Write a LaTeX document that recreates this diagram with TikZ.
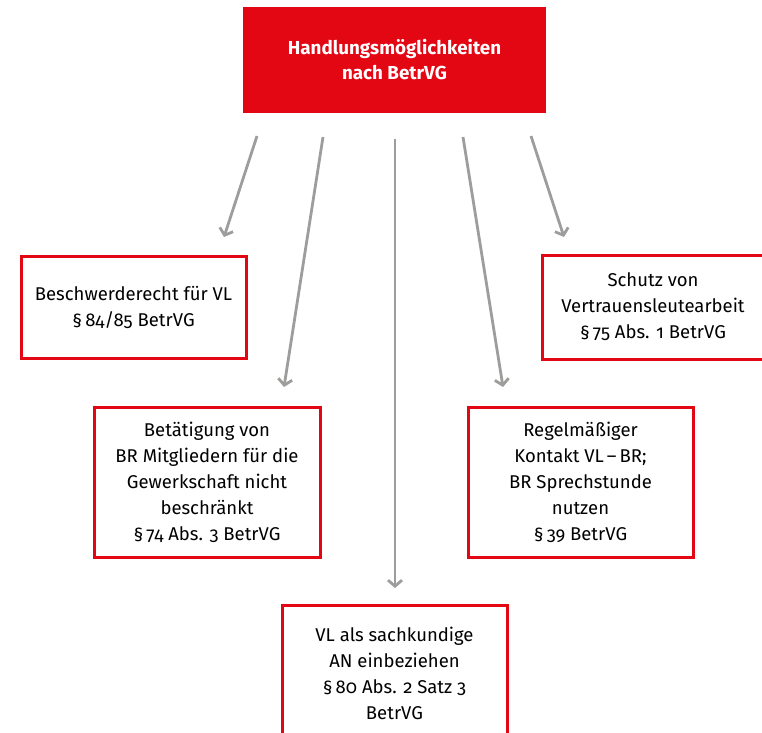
\documentclass[tikz,border=0pt]{standalone}
\usepackage{fontspec}
\setmainfont{Fira Sans}[Numbers=OldStyle]
\usetikzlibrary{arrows.meta}
\definecolor{dgbred}{HTML}{E30613}
\definecolor{arrgray}{HTML}{9D9D9C}
\tikzset{
  box/.style={draw=dgbred, line width=3pt, fill=white, align=center, inner sep=0pt,
    font=\fontsize{18.5}{26}\selectfont, anchor=center},
  titlebox/.style={fill=dgbred, text=white, align=center, inner sep=0pt,
    font=\fontsize{18.8}{25}\selectfont\bfseries, anchor=center},
  conn/.style={draw=arrgray, line width=2.8pt, -{Straight Barb[length=6pt,width=14pt,line width=2.8pt]}},
}
\begin{document}
\begin{tikzpicture}[x=1pt,y=-1pt]
\useasboundingbox (0,0) rectangle (762,732);
\clip (0,0) rectangle (762,732);
\node[titlebox, minimum width=303pt, minimum height=106pt] (title) at (394.5,60) {Handlungsmöglichkeiten\\nach BetrVG};
\node[box, minimum width=225pt, minimum height=102pt] (b1) at (133.5,307) {Beschwerderecht für VL\\§\,84/85 BetrVG};
\node[box, minimum width=222pt, minimum height=104pt] (b2) at (653,307) {Schutz von\\Vertrauensleutearbeit\\§\,75 Abs. 1 BetrVG};
\node[box, minimum width=226pt, minimum height=150pt] (b3) at (207,482) {Betätigung von\\BR Mitgliedern für die\\Gewerkschaft nicht\\beschränkt\\§\,74 Abs. 3 BetrVG};
\node[box, minimum width=225pt, minimum height=150pt] (b4) at (580.5,482) {Regelmäßiger\\Kontakt VL\,–\,BR;\\BR Sprechstunde\\nutzen\\§\,39 BetrVG};
\node[box, minimum width=225pt, minimum height=136pt] (b5) at (394.5,673) {VL als sachkundige\\AN einbeziehen\\§\,80 Abs. 2 Satz 3\\BetrVG};
\coordinate (s1) at (257,136);
\coordinate (s2) at (323,137);
\coordinate (s3) at (395,139);
\coordinate (s4) at (463,137);
\coordinate (s5) at (531,136);
\coordinate (e1) at (224,237);
\coordinate (e2) at (284,387);
\coordinate (e3) at (395,588);
\coordinate (e4) at (503,387);
\coordinate (e5) at (564,237);
\draw[conn] (s1) -- (e1);
\draw[conn] (s2) -- (e2);
\draw[conn] (s3) -- (e3);
\draw[conn] (s4) -- (e4);
\draw[conn] (s5) -- (e5);
\end{tikzpicture}
\end{document}
